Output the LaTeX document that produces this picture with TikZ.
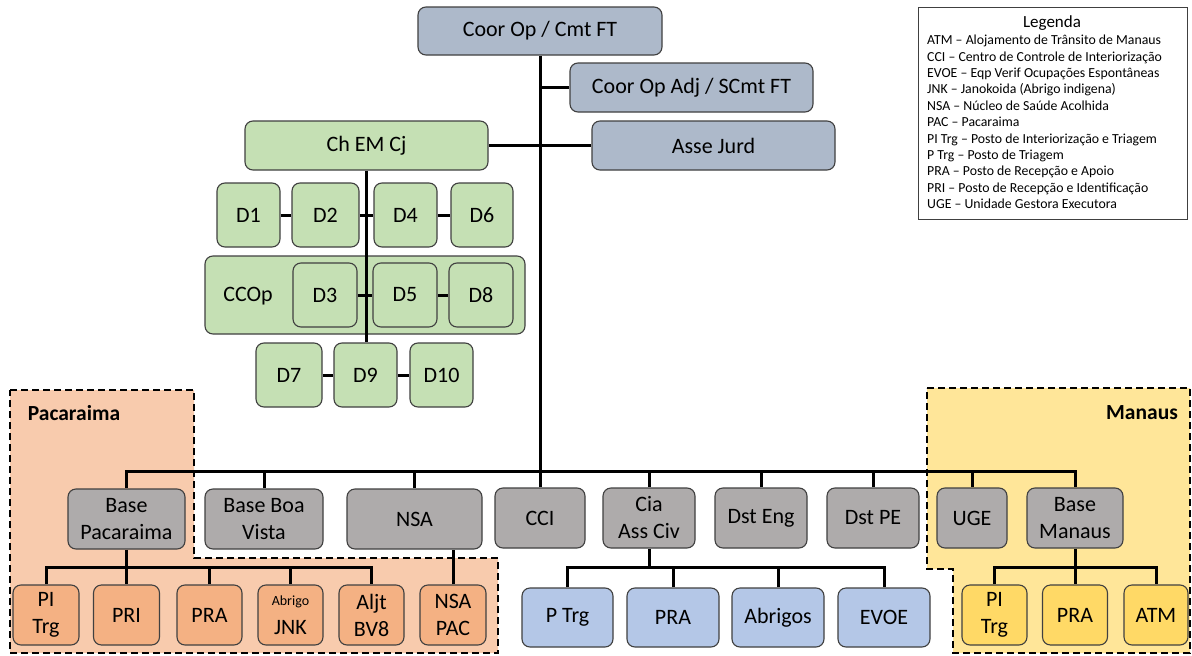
\documentclass[tikz,border=0pt]{standalone}
\usepackage{fontspec}
\setmainfont{Carlito}
\definecolor{topc}{HTML}{ADB9CA}
\definecolor{grn}{HTML}{C5E0B4}
\definecolor{gry}{HTML}{AEABAB}
\definecolor{org}{HTML}{F4B183}
\definecolor{pacc}{HTML}{F8CBAD}
\definecolor{blu}{HTML}{B4C7E7}
\definecolor{yel}{HTML}{FFD966}
\definecolor{manc}{HTML}{FFE699}
\definecolor{edge}{HTML}{404040}
\pgfdeclarelayer{bga}
\pgfdeclarelayer{bgb}
\pgfsetlayers{bga,bgb,main}
\begin{document}
\begin{tikzpicture}[x=1pt,y=-1pt,
  bx/.style={draw=edge, line width=1.1pt, rounded corners=8pt, inner sep=0pt, align=center,
    font=\fontsize{22}{27}\selectfont, text=black},
  conn/.style={line width=3pt, black},
  region/.style={draw=black, line width=2.5pt, dash pattern=on 7pt off 4pt},
  lbl/.style={inner sep=0pt, font=\fontsize{22}{27}\selectfont, text=black},
  reglbl/.style={inner sep=0pt, font=\bfseries\fontsize{21.5}{24}\selectfont, text=black}]
\useasboundingbox (0,0) rectangle (1192,656);

% regions
\begin{pgfonlayer}{bga}
\fill[white] (0,0) rectangle (1192,656);
\draw[region, fill=pacc] (10,390) -- (194,390) -- (194,558) -- (498,558) -- (498,653) -- (10,653) -- cycle;
\draw[region, fill=manc] (927,388) -- (1190,388) -- (1190,653) -- (953,653) -- (953,569) -- (927,569) -- cycle;
\node[bx, fill=grn, minimum width=320pt, minimum height=78pt] (ccop) at (365,295) {};
\end{pgfonlayer}
\node[reglbl] (paclbl) at (74,413) {Pacaraima};
\node[reglbl] (manlbl) at (1142,413) {Manaus};

% top
\node[bx, fill=topc, minimum width=244pt, minimum height=48pt] (top) at (540,31) {Coor Op / Cmt FT};
\node[bx, fill=topc, minimum width=243pt, minimum height=49pt] (adj) at (691.5,87.5) {Coor Op Adj / SCmt FT};
\node[bx, fill=topc, minimum width=243pt, minimum height=49pt] (asse) at (713.5,145.5) {Asse Jurd};
\node[bx, fill=grn, minimum width=243pt, minimum height=49pt] (chem) at (366.5,145.5) {Ch EM Cj};

% green
\begin{scope}[every node/.append style={bx, fill=grn, minimum height=64pt}]
\node[minimum width=63pt] (d1) at (248.5,215) {D1};
\node[minimum width=67pt] (d2) at (325.5,215) {D2};
\node[minimum width=63pt] (d4) at (405.5,215) {D4};
\node[minimum width=62pt] (d6) at (482,215) {D6};
\node[minimum width=64pt] (d3) at (325,295) {D3};
\node[minimum width=64pt] (d5) at (405,295) {D5};
\node[minimum width=64pt] (d8) at (481,295) {D8};
\node[minimum width=66pt] (d7) at (289,375) {D7};
\node[minimum width=63pt] (d9) at (365.5,375) {D9};
\node[minimum width=63pt] (d10) at (441.5,375) {D10};
\end{scope}
\node[lbl] (ccoplbl) at (248,296) {CCOp};

% gray row
\begin{scope}[every node/.append style={bx, fill=gry, minimum height=60pt}]
\node[minimum width=117pt] (basepac) at (126.5,519) {Base\\Pacaraima};
\node[minimum width=118pt] (bbv) at (264,519) {Base Boa\\Vista};
\node[minimum width=135pt] (nsa) at (414.5,519) {NSA};
\node[minimum width=90pt] (cci) at (540,518) {CCI};
\node[minimum width=92pt] (cia) at (649,518) {Cia\\Ass Civ};
\node[minimum width=92pt] (dsteng) at (761,518) {Dst Eng};
\node[minimum width=92pt] (dstpe) at (873,518) {Dst PE};
\node[minimum width=70pt] (uge) at (972,518) {UGE};
\node[minimum width=96pt] (basemn) at (1075,518) {Base\\Manaus};
\end{scope}

% orange row
\begin{scope}[every node/.append style={bx, fill=org, minimum height=60pt}]
\node[minimum width=66pt] (pitrg) at (46,615) {PI\\Trg};
\node[minimum width=66pt] (pri) at (126.5,615) {PRI};
\node[minimum width=65pt] (pra) at (209.5,615) {PRA};
\node[minimum width=65pt] (jnk) at (290.5,615) {{\fontsize{14}{16}\selectfont Abrigo}\\[2pt]JNK};
\node[minimum width=65pt] (aljt) at (371.5,615) {Aljt\\BV8};
\node[minimum width=66pt] (nsapac) at (453,615) {NSA\\PAC};
\end{scope}

% blue row
\begin{scope}[every node/.append style={bx, fill=blu, minimum height=59pt}]
\node[minimum width=91pt] (ptrg) at (567.5,617.5) {P Trg};
\node[minimum width=92pt] (prab) at (673,617.5) {PRA};
\node[minimum width=92pt] (abrigos) at (778,617.5) {Abrigos};
\node[minimum width=92pt] (evoe) at (884,617.5) {EVOE};
\end{scope}

% yellow row
\begin{scope}[every node/.append style={bx, fill=yel, minimum height=60pt}]
\node[minimum width=65pt] (pitrgm) at (994.5,615) {PI\\Trg};
\node[minimum width=65pt] (pram) at (1075,615) {PRA};
\node[minimum width=64pt] (atm) at (1156,615) {ATM};
\end{scope}

% legend
\node[draw=edge, fill=white, line width=0.9pt, minimum width=269pt, minimum height=212pt, inner sep=0pt] (legend) at (1052.5,113) {};
\node[inner sep=0pt, font=\fontsize{17}{19}\selectfont] (legtitle) at (1052,23) {Legenda};
\node[anchor=north west, inner sep=0pt, align=left, font=\fontsize{13.8}{16.4}\selectfont] (legtxt) at (927,35) {%
ATM -- Alojamento de Trânsito de Manaus\\
CCI -- Centro de Controle de Interiorização\\
EVOE -- Eqp Verif Ocupações Espontâneas\\
JNK -- Janokoida (Abrigo indigena)\\
NSA -- Núcleo de Saúde Acolhida\\
PAC -- Pacaraima\\
PI Trg -- Posto de Interiorização e Triagem\\
P Trg -- Posto de Triagem\\
PRA -- Posto de Recepção e Apoio\\
PRI -- Posto de Recepção e Identificação\\
UGE -- Unidade Gestora Executora};

% connectors
\coordinate (bus) at (540,471);
\coordinate (pbus) at (126.5,567);
\coordinate (cbus) at (649,567);
\coordinate (mbus) at (1075,567);
\begin{pgfonlayer}{bgb}
\draw[conn] (top.south) -- (bus);
\draw[conn] (top.south |- adj.west) -- (adj.west);
\draw[conn] (chem.east) -- (asse.west);
\draw[conn] (chem.south) -- (chem.south |- d9.north);
\draw[conn] (d1) -- (d2);
\draw[conn] (d2) -- (d4);
\draw[conn] (d4) -- (d6);
\draw[conn] (d3) -- (d5);
\draw[conn] (d5) -- (d8);
\draw[conn] (d7) -- (d9);
\draw[conn] (d9) -- (d10);
\draw[conn] (basepac.north) |- (bus) -| (basemn.north);
\foreach \n in {bbv,nsa,cci,cia,dsteng,dstpe,uge}
  \draw[conn] (\n.north) -- (\n.north |- bus);
\draw[conn] (pitrg.north) |- (pbus) -| (aljt.north);
\draw[conn] (basepac.south) -- (pri.north);
\foreach \n in {pra,jnk}
  \draw[conn] (\n.north) -- (\n.north |- pbus);
\draw[conn] (nsapac.north) -- (nsapac.north |- nsa.south);
\draw[conn] (ptrg.north) |- (cbus) -| (evoe.north);
\draw[conn] (cia.south) -- (cbus);
\foreach \n in {prab,abrigos}
  \draw[conn] (\n.north) -- (\n.north |- cbus);
\draw[conn] (pitrgm.north) |- (mbus) -| (atm.north);
\draw[conn] (basemn.south) -- (pram.north);
\end{pgfonlayer}
\end{tikzpicture}
\end{document}
